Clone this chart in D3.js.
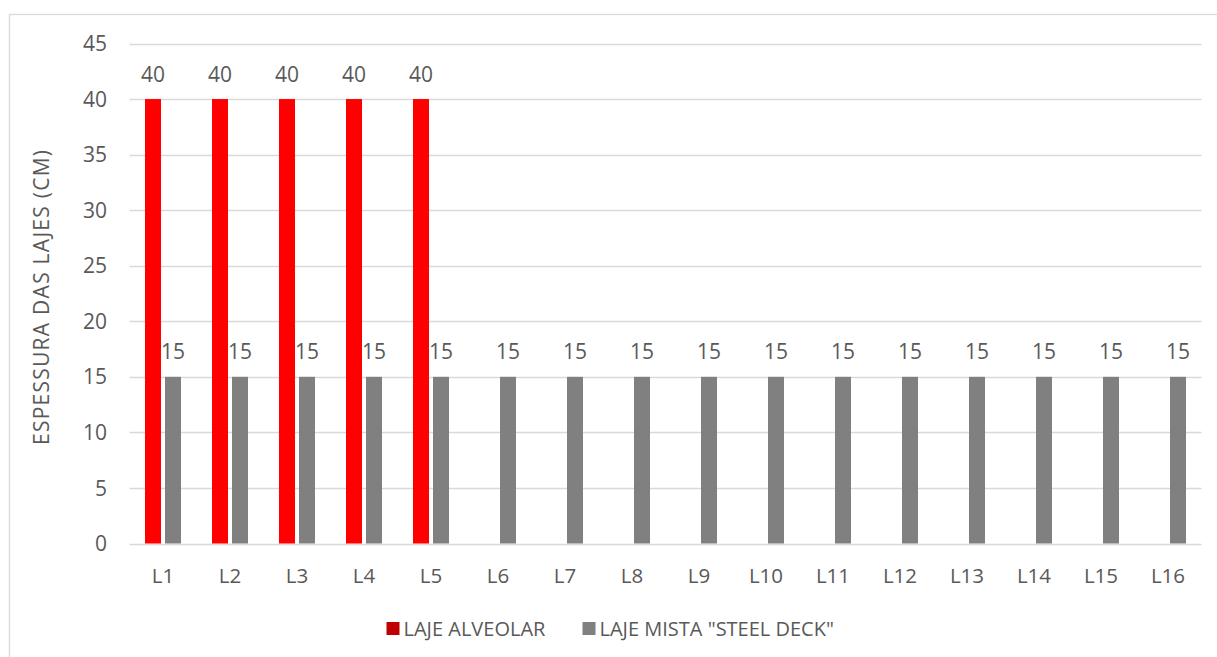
<!DOCTYPE html>
<html>
<head>
<meta charset="utf-8">
<script src="https://cdn.jsdelivr.net/npm/d3@7"></script>
<style>
  html, body { margin: 0; padding: 0; background: #fff; }
  svg text { font-family: "Open Sans", sans-serif; fill: #595959; }
</style>
</head>
<body>
<div id="chart"></div>
<script>
const width = 1217;
const height = 657;

// data
const categories = ["L1","L2","L3","L4","L5","L6","L7","L8","L9","L10","L11","L12","L13","L14","L15","L16"];
const seriesNames = ["LAJE ALVEOLAR", "LAJE MISTA \"STEEL DECK\""];
const alveolar = [40, 40, 40, 40, 40, null, null, null, null, null, null, null, null, null, null, null];
const steelDeck = [15, 15, 15, 15, 15, 15, 15, 15, 15, 15, 15, 15, 15, 15, 15, 15];
const yTicks = [0, 5, 10, 15, 20, 25, 30, 35, 40, 45];

const barColors = ["#FF0000", "#808080"];
const legendColors = ["#C00000", "#808080"];

const margin = { left: 129.5, right: 1201.5, top: 43.5, bottom: 543.5 };

const svg = d3.select("#chart").append("svg")
  .attr("width", width)
  .attr("height", height);

// outer chart border (right and bottom edges fall outside the window)
svg.append("rect")
  .attr("x", 9.5).attr("y", 14.5)
  .attr("width", 1230).attr("height", 680)
  .attr("fill", "#fff")
  .attr("stroke", "#D9D9D9")
  .attr("stroke-width", 1.3);

const x = d3.scaleBand()
  .domain(categories)
  .range([margin.left, margin.right])
  .padding(0);

const sub = d3.scaleBand()
  .domain(seriesNames)
  .range([0, x.bandwidth()])
  .paddingInner(0.2)
  .paddingOuter(0.775);

const y = d3.scaleLinear()
  .domain([0, 45])
  .range([margin.bottom, margin.top]);

// gridlines
svg.append("g")
  .selectAll("line")
  .data(yTicks)
  .join("line")
  .attr("x1", margin.left)
  .attr("x2", margin.right)
  .attr("y1", d => Math.round(y(d)) + 0.5)
  .attr("y2", d => Math.round(y(d)) + 0.5)
  .attr("stroke", "#D9D9D9")
  .attr("stroke-width", 1.3);

// y tick labels
svg.append("g")
  .selectAll("text")
  .data(yTicks)
  .join("text")
  .attr("x", 107)
  .attr("y", d => y(d))
  .attr("dy", "0.36em")
  .attr("text-anchor", "end")
  .attr("font-size", "21px")
  .text(d => d);

// x tick labels
svg.append("g")
  .selectAll("text")
  .data(categories)
  .join("text")
  .attr("x", d => x(d) + x.bandwidth() / 2)
  .attr("y", 583)
  .attr("text-anchor", "middle")
  .attr("font-size", "20.5px")
  .text(d => d);

// y axis title
svg.append("text")
  .attr("transform", "translate(48.5,297.5) rotate(-90)")
  .attr("text-anchor", "middle")
  .attr("font-size", "21px")
  .attr("textLength", 295)
  .attr("lengthAdjust", "spacing")
  .text("ESPESSURA DAS LAJES (CM)");

const allSeries = [alveolar, steelDeck];

allSeries.forEach((values, si) => {
  const rows = categories.map((c, i) => ({ cat: c, v: values[i] })).filter(d => d.v != null);
  const g = svg.append("g");

  g.selectAll("rect")
    .data(rows)
    .join("rect")
    .attr("x", d => x(d.cat) + sub(seriesNames[si]))
    .attr("y", d => y(d.v))
    .attr("width", sub.bandwidth())
    .attr("height", d => y(0) - y(d.v))
    .attr("fill", barColors[si]);

  g.selectAll("text")
    .data(rows)
    .join("text")
    .attr("x", d => x(d.cat) + sub(seriesNames[si]) + sub.bandwidth() / 2)
    .attr("y", d => y(d.v) - 17.5)
    .attr("text-anchor", "middle")
    .attr("font-size", "21px")
    .text(d => d.v);
});

// legend
const legendX = [386.5, 582.5];
const legend = svg.append("g");
seriesNames.forEach((name, i) => {
  legend.append("rect")
    .attr("x", legendX[i])
    .attr("y", 622)
    .attr("width", 13)
    .attr("height", 13)
    .attr("fill", legendColors[i]);
  legend.append("text")
    .attr("x", legendX[i] + 17)
    .attr("y", 636)
    .attr("font-size", "20px")
    .text(name);
});
</script>
</body>
</html>
